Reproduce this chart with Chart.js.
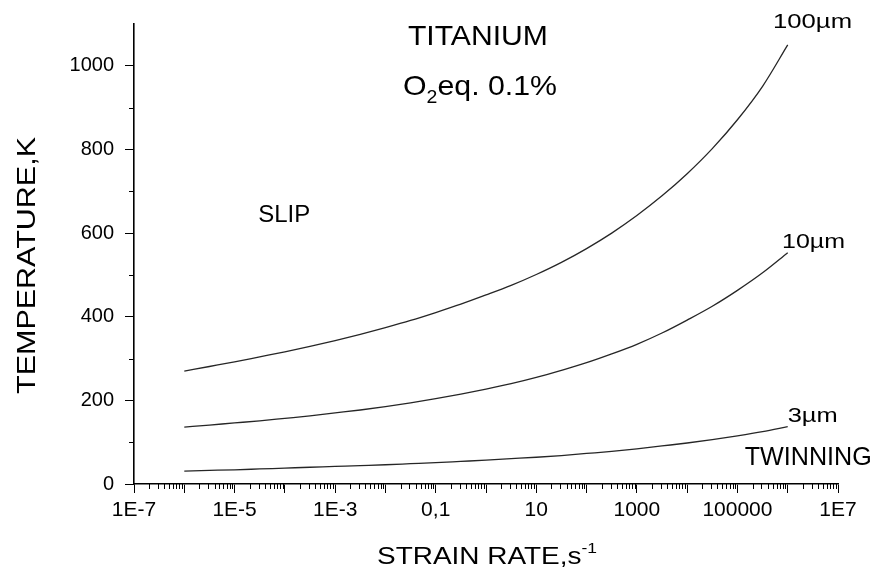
<!DOCTYPE html>
<html>
<head>
<meta charset="utf-8">
<title>Titanium - slip / twinning map</title>
<script src="https://cdn.jsdelivr.net/npm/chart.js@4.4.1/dist/chart.umd.min.js"></script>
<style>
  body { margin: 0; background: #fff; }
  #wrap { width: 873px; height: 572px; }
</style>
</head>
<body>
<div id="wrap"><canvas id="mapChart" width="873" height="572"></canvas></div>
<script>
// Strain rate (s^-1), read every half decade
const strainRates = [
    1e-6, 3.162e-6, 1e-5, 3.162e-5, 1e-4, 3.162e-4, 1e-3, 3.162e-3, 1e-2, 3.162e-2,
    0.1, 0.3162, 1, 3.162, 10, 31.62, 100, 316.2, 1000, 3162,
    1e4, 3.162e4, 1e5, 3.162e5, 1e6
];

// Temperature (K) of the slip/twinning boundary for each grain size
const temp100um = [270, 281, 292, 304, 316, 329, 343, 358, 374, 391,
    410, 430, 452, 475, 501, 530, 563, 600, 642, 689,
    742, 802, 871, 951, 1050];
const temp10um = [136, 141, 146, 151, 157, 163, 170, 177, 185, 194,
    204, 215, 227, 240, 255, 272, 290, 311, 334, 361,
    392, 425, 463, 505, 553];
const temp3um = [31, 32.5, 34, 36, 38, 40, 42, 44, 46, 48.5,
    51, 54, 57, 60.5, 64, 68, 73, 78, 84, 91,
    98, 106, 115, 125, 137];

// Axis ticks
const xTickValues = [1e-7, 1e-6, 1e-5, 1e-4, 1e-3, 1e-2, 1e-1, 1, 10, 100, 1000, 1e4, 1e5, 1e6, 1e7];
const xTickLabels = ['1E-7', '', '1E-5', '', '1E-3', '', '0,1', '', '10', '', '1000', '', '100000', '', '1E7'];
const yTickValues = [0, 200, 400, 600, 800, 1000];
const yTickLabels = ['0', '200', '400', '600', '800', '1000'];
const yMinorTicks = [100, 300, 500, 700, 900];

const FONT = '"Liberation Sans", Arial, Helvetica, sans-serif';

function toPoints(temps) {
    return strainRates.map((r, i) => ({ x: r, y: temps[i] }));
}

// Draw a text made of parts [text, size, dy], stretched to a given width
function drawLabel(ctx, x, y, width, parts) {
    let natural = 0;
    parts.forEach(p => {
        ctx.font = p[1] + 'px ' + FONT;
        natural += ctx.measureText(p[0]).width;
    });
    ctx.save();
    ctx.translate(x, y);
    ctx.scale(width / natural, 1);
    let cx = 0;
    parts.forEach(p => {
        ctx.font = p[1] + 'px ' + FONT;
        ctx.fillText(p[0], cx, p[2]);
        cx += ctx.measureText(p[0]).width;
    });
    ctx.restore();
}

// Minor ticks, axis titles and in-plot labels
const decorPlugin = {
    id: 'decor',
    beforeDraw(chart) {
        const ctx = chart.ctx;
        ctx.save();
        ctx.fillStyle = '#fff';
        ctx.fillRect(0, 0, chart.width, chart.height);
        ctx.restore();
    },
    afterDraw(chart) {
        const { ctx, scales: { x, y } } = chart;
        ctx.save();
        ctx.strokeStyle = '#000';
        ctx.lineWidth = 1;
        ctx.beginPath();
        for (let d = -7; d < 7; d++) {
            for (let m = 2; m <= 9; m++) {
                const px = Math.round(x.getPixelForValue(m * Math.pow(10, d))) + 0.5;
                ctx.moveTo(px, y.bottom);
                ctx.lineTo(px, y.bottom + 5);
            }
        }
        yMinorTicks.forEach(v => {
            const py = Math.round(y.getPixelForValue(v)) + 0.5;
            ctx.moveTo(x.left - 5, py);
            ctx.lineTo(x.left, py);
        });
        ctx.stroke();

        ctx.fillStyle = '#000';
        ctx.textBaseline = 'alphabetic';
        ctx.textAlign = 'left';
        const at = (xv, yv) => [x.getPixelForValue(xv), y.getPixelForValue(yv)];

        let p = at(0.028, 1050);
        drawLabel(ctx, p[0], p[1], 140, [['TITANIUM', 28, 0]]);
        p = at(0.0224, 931);
        drawLabel(ctx, p[0], p[1], 154, [['O', 28, 0], ['2', 18, 8], ['eq. 0.1%', 28, 0]]);
        p = at(2.95e-5, 627);
        drawLabel(ctx, p[0], p[1], 52, [['SLIP', 24, 0]]);
        p = at(5.1e5, 1091);
        drawLabel(ctx, p[0], p[1], 79, [['100\u00b5m', 20, 0]]);
        p = at(7.7e5, 565);
        drawLabel(ctx, p[0], p[1], 63, [['10\u00b5m', 20, 0]]);
        p = at(1e6, 148);
        drawLabel(ctx, p[0], p[1], 50, [['3\u00b5m', 20, 0]]);
        p = at(1.4e5, 45);
        drawLabel(ctx, p[0], p[1], 127, [['TWINNING', 25, 0]]);

        // axis titles
        drawLabel(ctx, 377, 564, 220, [['STRAIN RATE,s', 24, 0], ['-1', 15, -11]]);
        ctx.save();
        ctx.translate(35, 394);
        ctx.rotate(-Math.PI / 2);
        drawLabel(ctx, 0, 0, 257, [['TEMPERATURE,K', 25, 0]]);
        ctx.restore();
        ctx.restore();
    }
};

const lineStyle = {
    borderColor: '#262626',
    borderWidth: 1.3,
    pointRadius: 0,
    fill: false,
    cubicInterpolationMode: 'monotone'
};

const mapCtx = document.getElementById('mapChart').getContext('2d');
const mapChart = new Chart(mapCtx, {
    type: 'line',
    data: {
        datasets: [
            Object.assign({ label: '100 \u00b5m', data: toPoints(temp100um) }, lineStyle),
            Object.assign({ label: '10 \u00b5m', data: toPoints(temp10um) }, lineStyle),
            Object.assign({ label: '3 \u00b5m', data: toPoints(temp3um) }, lineStyle)
        ]
    },
    options: {
        responsive: false,
        animation: false,
        devicePixelRatio: 1,
        layout: { padding: { top: 24, right: 35, left: 0, bottom: 0 } },
        plugins: {
            legend: { display: false },
            tooltip: { enabled: false }
        },
        scales: {
            x: {
                type: 'logarithmic',
                min: 1e-7,
                max: 1e7,
                afterBuildTicks: scale => { scale.ticks = xTickValues.map(v => ({ value: v })); },
                afterFit: scale => { scale.height = 88; },
                ticks: {
                    autoSkip: false,
                    maxRotation: 0,
                    padding: 5,
                    color: '#000',
                    font: { family: FONT, size: 21 },
                    callback: (value, index) => xTickLabels[index]
                },
                grid: { drawOnChartArea: false, drawTicks: true, tickLength: 9, tickColor: '#000', tickWidth: 1 },
                border: { display: true, color: '#000', width: 1.6 }
            },
            y: {
                type: 'linear',
                min: 0,
                max: 1100,
                afterBuildTicks: scale => { scale.ticks = yTickValues.map(v => ({ value: v })); },
                afterFit: scale => { scale.width = 134; },
                ticks: {
                    padding: 11,
                    color: '#000',
                    font: { family: FONT, size: 20 },
                    callback: (value, index) => yTickLabels[index]
                },
                grid: { drawOnChartArea: false, drawTicks: true, tickLength: 9, tickColor: '#000', tickWidth: 1 },
                border: { display: true, color: '#000', width: 1.6 }
            }
        }
    },
    plugins: [decorPlugin]
});
</script>
</body>
</html>
